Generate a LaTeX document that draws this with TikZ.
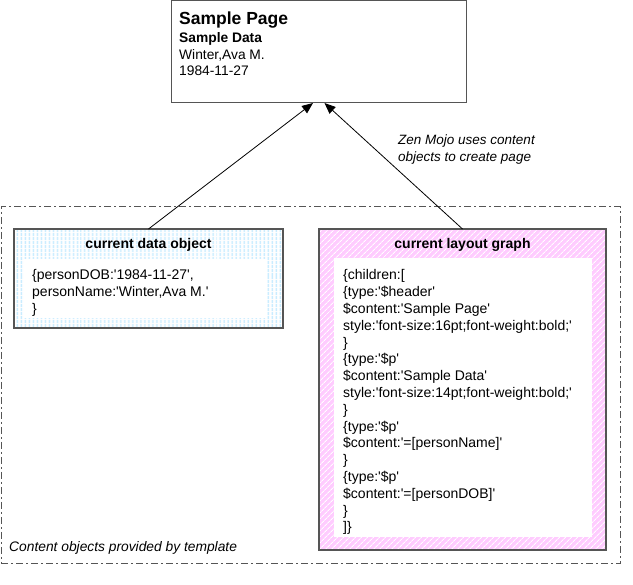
\documentclass[tikz,border=0pt]{standalone}
\usepackage{fontspec}
\setmainfont{Liberation Sans}[Ligatures=TeXOff]
\usetikzlibrary{patterns.meta,arrows.meta}
\definecolor{stripeblue}{HTML}{C8ECFF}
\definecolor{stripepink}{HTML}{FFCCFF}
\definecolor{edgegray}{HTML}{555555}
\begin{document}
\begin{tikzpicture}[x=1pt,y=-1pt,
  box/.style={draw=edgegray, inner sep=0pt, outer sep=0pt},
  pagebox/.style={box, line width=1pt, fill=white},
  databox/.style={box, line width=1.6pt, preaction={fill=white},
    pattern={Lines[angle=90,distance=4pt,line width=2pt]}, pattern color=stripeblue},
  layoutbox/.style={box, line width=1.6pt, preaction={fill=stripepink},
    pattern={Lines[angle=45,distance=4pt,line width=0.9pt]}, pattern color=white},
  whitebox/.style={fill=white, inner sep=0pt, outer sep=0pt},
  groupbox/.style={draw=edgegray, line width=1pt, inner sep=0pt,
    dash pattern=on 7pt off 3pt on 2pt off 3pt},
  txt/.style={inner sep=0pt, text=black},
  codefont/.style={font=\fontsize{14}{16.8}\selectfont},
  titlefont/.style={font=\bfseries\fontsize{14}{16}\selectfont},
  notefont/.style={font=\itshape\fontsize{13.5}{17}\selectfont},
  arrow/.style={draw=black, line width=0.8pt, -{Triangle[length=11pt,width=9pt]}}
]
\useasboundingbox[fill=white] (0,0) rectangle (633,585);

% group frame
\node[groupbox, minimum width=619pt, minimum height=357pt] (group) at (310.5,385.5) {};

% page box
\node[pagebox, minimum width=295pt, minimum height=102pt] (page) at (318.5,52) {};
\node[txt, anchor=base west, font=\bfseries\fontsize{17.5}{21}\selectfont] (p1) at (179,25) {Sample Page};
\node[txt, anchor=base west, font=\bfseries\fontsize{13.8}{16}\selectfont] (p2) at (179,43) {Sample Data};
\node[txt, anchor=base west, font=\fontsize{13.8}{16}\selectfont] (p3) at (179,59.5) {Winter,Ava M.};
\node[txt, anchor=base west, font=\fontsize{13.8}{16}\selectfont] (p4) at (179,76) {1984-11-27};

% data box
\node[databox, minimum width=269pt, minimum height=99pt] (data) at (148.5,278.5) {};
\node[whitebox, minimum width=243pt, minimum height=59pt] (datainner) at (145.5,288.5) {};
\node[txt, anchor=base, titlefont] (datatitle) at (148.5,249) {current data object};
\node[txt, anchor=base west, codefont] (datacode) at (32,279.5) {\begin{tabular}[t]{@{}l@{}}
\{personDOB:'1984-11-27',\\
personName:'Winter,Ava M.'\\
\}
\end{tabular}};

% layout box
\node[layoutbox, minimum width=287pt, minimum height=321pt] (layout) at (462.5,389.5) {};
\node[whitebox, minimum width=258pt, minimum height=279pt] (layoutinner) at (463,397.5) {};
\node[txt, anchor=base, titlefont] (layouttitle) at (462.5,249) {current layout graph};
\node[txt, anchor=base west, codefont] (layoutcode) at (343,280) {\begin{tabular}[t]{@{}l@{}}
\{children:[\\
\{type:'\$header'\\
\$content:'Sample Page'\\
style:'font-size:16pt;font-weight:bold;'\\
\}\\
\{type:'\$p'\\
\$content:'Sample Data'\\
style:'font-size:14pt;font-weight:bold;'\\
\}\\
\{type:'\$p'\\
\$content:'=[personName]'\\
\}\\
\{type:'\$p'\\
\$content:'=[personDOB]'\\
\}\\
]\}
\end{tabular}};

% notes
\node[txt, anchor=base west, notefont] (zen) at (398,145) {Zen Mojo uses content};
\node[txt, anchor=base west, notefont] (zen2) at (398,162) {objects to create page};
\node[txt, anchor=base west, font=\itshape\fontsize{13.8}{17}\selectfont] (grouplabel) at (9,552) {Content objects provided by template};

% connectors
\coordinate (tipL) at ([xshift=-5.5pt]page.south);
\coordinate (tipR) at ([xshift=6pt]page.south);
\draw[arrow] (data.north) -- (tipL);
\draw[arrow] (layout.north) -- (tipR);
\end{tikzpicture}
\end{document}
